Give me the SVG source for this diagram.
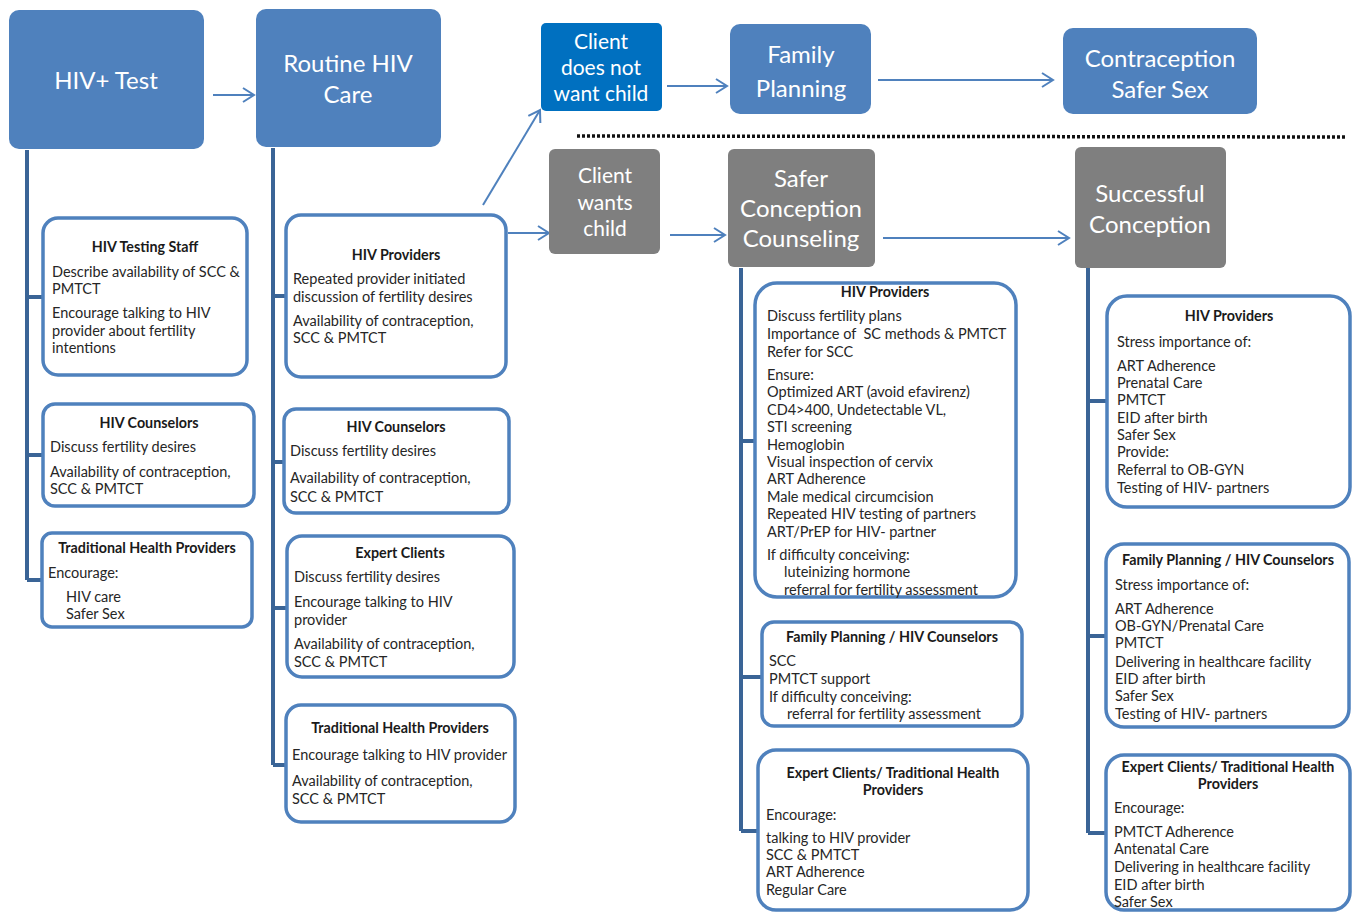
<svg xmlns="http://www.w3.org/2000/svg" width="1360" height="912" viewBox="0 0 1360 912">
<style>
.hb{fill:#4F81BD}
.hd{fill:#0070C0}
.gb{fill:#7F7F7F}
.ht{font-family:Lato,"Liberation Sans",sans-serif;font-size:24px;fill:#fff;text-anchor:middle;dominant-baseline:central}
.hs{font-family:Lato,"Liberation Sans",sans-serif;font-size:21px;fill:#fff;text-anchor:middle;dominant-baseline:central}
.db{fill:#fff;stroke:#4F81BD;stroke-width:3.5}
.t{font-family:Lato,"Liberation Sans",sans-serif;font-size:14.5px;fill:#262626;dominant-baseline:central}
.tb{font-family:Lato,"Liberation Sans",sans-serif;font-size:14.3px;font-weight:bold;fill:#1a1a1a;text-anchor:middle;dominant-baseline:central}
.sp{stroke:#3A6496;stroke-width:4;fill:none}
.ar{stroke:#4F81BD;stroke-width:2;fill:none;marker-end:url(#ah)}
</style>
<defs>
<marker id="ah" markerUnits="userSpaceOnUse" markerWidth="14" markerHeight="16" refX="12" refY="8" orient="auto">
<path d="M1,1 L12,8 L1,15" fill="none" stroke="#4F81BD" stroke-width="2"/>
</marker>
</defs>
<rect width="1360" height="912" fill="#fff"/>

<g id="connectors">
<line class="ar" x1="213" y1="95" x2="254" y2="95"/>
<line class="ar" x1="483" y1="205" x2="540" y2="110"/>
<line class="ar" x1="667" y1="86" x2="727" y2="86"/>
<line class="ar" x1="878" y1="80" x2="1053" y2="80"/>
<line class="ar" x1="508" y1="233" x2="549" y2="233"/>
<line class="ar" x1="670" y1="235" x2="725" y2="235"/>
<line class="ar" x1="883" y1="238" x2="1069" y2="238"/>
<line x1="577" y1="136" x2="1347" y2="137" stroke="#111" stroke-width="3.5" stroke-dasharray="3 2"/>
<path class="sp" d="M27,150 V580 M27,297 H43 M27,455 H43 M27,580 H42"/>
<path class="sp" d="M273,148 V765 M273,296 H286 M273,462 H284 M273,608 H287 M273,765 H286"/>
<path class="sp" d="M741,268 V831 M741,441 H755 M741,677 H762 M741,831 H758"/>
<path class="sp" d="M1088,268 V833 M1088,401 H1107 M1088,636 H1106 M1088,833 H1106"/>
</g>

<g id="hiv-test"><rect class="hb" x="9" y="10" width="195" height="139" rx="10"/><text class="ht" x="106" y="79">HIV+ Test</text></g>
<g id="routine-care"><rect class="hb" x="256" y="9" width="185" height="138" rx="10"/><text class="ht" x="348" y="62">Routine HIV</text><text class="ht" x="348" y="93">Care</text></g>
<g id="no-child"><rect class="hd" x="541" y="23" width="121" height="88" rx="5"/><text class="hs" x="601" y="40">Client</text><text class="hs" x="601" y="66">does not</text><text class="hs" x="601" y="92">want child</text></g>
<g id="family-planning"><rect class="hb" x="730" y="24" width="141" height="90" rx="10"/><text class="ht" x="801" y="53">Family</text><text class="ht" x="801" y="87">Planning</text></g>
<g id="contraception"><rect class="hb" x="1063" y="28" width="194" height="86" rx="10"/><text class="ht" x="1160" y="57">Contraception</text><text class="ht" x="1160" y="88">Safer Sex</text></g>
<g id="wants-child"><rect class="gb" x="549" y="149" width="111" height="105" rx="6"/><text class="hs" x="605" y="174">Client</text><text class="hs" x="605" y="201">wants</text><text class="hs" x="605" y="227">child</text></g>
<g id="scc"><rect class="gb" x="728" y="149" width="147" height="118" rx="6"/><text class="ht" x="801" y="177">Safer</text><text class="ht" x="801" y="207">Conception</text><text class="ht" x="801" y="237">Counseling</text></g>
<g id="success"><rect class="gb" x="1075" y="147" width="151" height="121" rx="6"/><text class="ht" x="1150" y="192">Successful</text><text class="ht" x="1150" y="223">Conception</text></g>

<g id="c1-testing-staff"><rect class="db" x="43" y="218" width="204" height="157" rx="15"/>
<text class="tb" x="145" y="246">HIV Testing Staff</text>
<text class="t" x="52" y="271">Describe availability of SCC &amp;</text>
<text class="t" x="52" y="288">PMTCT</text>
<text class="t" x="52" y="312">Encourage talking to HIV</text>
<text class="t" x="52" y="330">provider about fertility</text>
<text class="t" x="52" y="347">intentions</text></g>
<g id="c1-counselors"><rect class="db" x="43" y="404" width="211" height="102" rx="12"/>
<text class="tb" x="149" y="422">HIV Counselors</text>
<text class="t" x="50" y="446">Discuss fertility desires</text>
<text class="t" x="50" y="471">Availability of contraception,</text>
<text class="t" x="50" y="488">SCC &amp; PMTCT</text></g>
<g id="c1-traditional"><rect class="db" x="42" y="533" width="210" height="94" rx="10"/>
<text class="tb" x="147" y="547">Traditional Health Providers</text>
<text class="t" x="48" y="572">Encourage:</text>
<text class="t" x="66" y="596">HIV care</text>
<text class="t" x="66" y="613">Safer Sex</text></g>

<g id="c2-providers"><rect class="db" x="286" y="215" width="220" height="162" rx="15"/>
<text class="tb" x="396" y="254">HIV Providers</text>
<text class="t" x="293" y="278">Repeated provider initiated</text>
<text class="t" x="293" y="296">discussion of fertility desires</text>
<text class="t" x="293" y="320">Availability of contraception,</text>
<text class="t" x="293" y="337">SCC &amp; PMTCT</text></g>
<g id="c2-counselors"><rect class="db" x="284" y="409" width="225" height="104" rx="12"/>
<text class="tb" x="396" y="426">HIV Counselors</text>
<text class="t" x="290" y="450">Discuss fertility desires</text>
<text class="t" x="290" y="477">Availability of contraception,</text>
<text class="t" x="290" y="496">SCC &amp; PMTCT</text></g>
<g id="c2-expert"><rect class="db" x="287" y="536" width="227" height="141" rx="15"/>
<text class="tb" x="400" y="552">Expert Clients</text>
<text class="t" x="294" y="576">Discuss fertility desires</text>
<text class="t" x="294" y="601">Encourage talking to HIV</text>
<text class="t" x="294" y="619">provider</text>
<text class="t" x="294" y="643">Availability of contraception,</text>
<text class="t" x="294" y="661">SCC &amp; PMTCT</text></g>
<g id="c2-traditional"><rect class="db" x="286" y="705" width="229" height="117" rx="15"/>
<text class="tb" x="400" y="727">Traditional Health Providers</text>
<text class="t" x="292" y="754">Encourage talking to HIV provider</text>
<text class="t" x="292" y="780">Availability of contraception,</text>
<text class="t" x="292" y="798">SCC &amp; PMTCT</text></g>

<g id="c3-providers"><rect class="db" x="755" y="283" width="261" height="314" rx="22"/>
<text class="tb" x="885" y="291">HIV Providers</text>
<text class="t" x="767" y="315">Discuss fertility plans</text>
<text class="t" x="767" y="333" xml:space="preserve">Importance of  SC methods &amp; PMTCT</text>
<text class="t" x="767" y="351">Refer for SCC</text>
<text class="t" x="767" y="374">Ensure:</text>
<text class="t" x="767" y="391">Optimized ART (avoid efavirenz)</text>
<text class="t" x="767" y="409">CD4&gt;400, Undetectable VL,</text>
<text class="t" x="767" y="426">STI screening</text>
<text class="t" x="767" y="444">Hemoglobin</text>
<text class="t" x="767" y="461">Visual inspection of cervix</text>
<text class="t" x="767" y="478">ART Adherence</text>
<text class="t" x="767" y="496">Male medical circumcision</text>
<text class="t" x="767" y="513">Repeated HIV testing of partners</text>
<text class="t" x="767" y="531">ART/PrEP for HIV- partner</text>
<text class="t" x="767" y="554">If difficulty conceiving:</text>
<text class="t" x="784" y="571">luteinizing hormone</text>
<text class="t" x="784" y="589">referral for fertility assessment</text></g>
<g id="c3-fp-counselors"><rect class="db" x="762" y="622" width="260" height="104" rx="12"/>
<text class="tb" x="892" y="636">Family Planning / HIV Counselors</text>
<text class="t" x="769" y="660">SCC</text>
<text class="t" x="769" y="678">PMTCT support</text>
<text class="t" x="769" y="696">If difficulty conceiving:</text>
<text class="t" x="787" y="713">referral for fertility assessment</text></g>
<g id="c3-expert"><rect class="db" x="758" y="750" width="270" height="160" rx="18"/>
<text class="tb" x="893" y="772">Expert Clients/ Traditional Health</text>
<text class="tb" x="893" y="789">Providers</text>
<text class="t" x="766" y="814">Encourage:</text>
<text class="t" x="766" y="837">talking to HIV provider</text>
<text class="t" x="766" y="854">SCC &amp; PMTCT</text>
<text class="t" x="766" y="871">ART Adherence</text>
<text class="t" x="766" y="889">Regular Care</text></g>

<g id="c4-providers"><rect class="db" x="1107" y="296" width="243" height="211" rx="20"/>
<text class="tb" x="1229" y="315">HIV Providers</text>
<text class="t" x="1117" y="341">Stress importance of:</text>
<text class="t" x="1117" y="365">ART Adherence</text>
<text class="t" x="1117" y="382">Prenatal Care</text>
<text class="t" x="1117" y="399">PMTCT</text>
<text class="t" x="1117" y="417">EID after birth</text>
<text class="t" x="1117" y="434">Safer Sex</text>
<text class="t" x="1117" y="451">Provide:</text>
<text class="t" x="1117" y="469">Referral to OB-GYN</text>
<text class="t" x="1117" y="487">Testing of HIV- partners</text></g>
<g id="c4-fp-counselors"><rect class="db" x="1106" y="544" width="243" height="183" rx="18"/>
<text class="tb" x="1228" y="559">Family Planning / HIV Counselors</text>
<text class="t" x="1115" y="584">Stress importance of:</text>
<text class="t" x="1115" y="608">ART Adherence</text>
<text class="t" x="1115" y="625">OB-GYN/Prenatal Care</text>
<text class="t" x="1115" y="642">PMTCT</text>
<text class="t" x="1115" y="661">Delivering in healthcare facility</text>
<text class="t" x="1115" y="678">EID after birth</text>
<text class="t" x="1115" y="695">Safer Sex</text>
<text class="t" x="1115" y="713">Testing of HIV- partners</text></g>
<g id="c4-expert"><rect class="db" x="1106" y="755" width="244" height="155" rx="18"/>
<text class="tb" x="1228" y="766">Expert Clients/ Traditional Health</text>
<text class="tb" x="1228" y="783">Providers</text>
<text class="t" x="1114" y="807">Encourage:</text>
<text class="t" x="1114" y="831">PMTCT Adherence</text>
<text class="t" x="1114" y="848">Antenatal Care</text>
<text class="t" x="1114" y="866">Delivering in healthcare facility</text>
<text class="t" x="1114" y="884">EID after birth</text>
<text class="t" x="1114" y="901">Safer Sex</text></g>
</svg>
